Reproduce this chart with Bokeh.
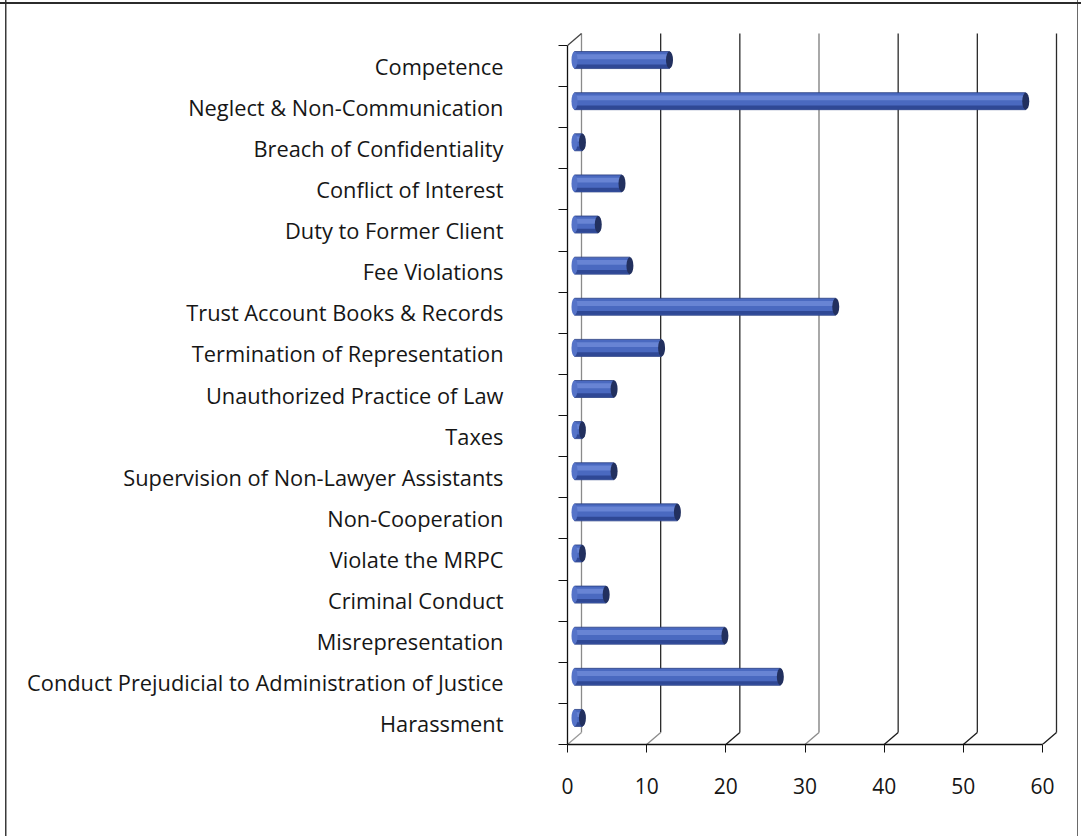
from bokeh.plotting import figure
from bokeh.models import FixedTicker, Range1d, ColumnDataSource
from bokeh.embed import file_html
from bokeh.resources import INLINE

# Complaint categories, listed top to bottom, and their counts
categories = [
    "Competence",
    "Neglect & Non-Communication",
    "Breach of Confidentiality",
    "Conflict of Interest",
    "Duty to Former Client",
    "Fee Violations",
    "Trust Account Books & Records",
    "Termination of Representation",
    "Unauthorized Practice of Law",
    "Taxes",
    "Supervision of Non-Lawyer Assistants",
    "Non-Cooperation",
    "Violate the MRPC",
    "Criminal Conduct",
    "Misrepresentation",
    "Conduct Prejudicial to Administration of Justice",
    "Harassment",
]
counts = [12, 57, 1, 6, 3, 7, 33, 11, 5, 1, 5, 13, 1, 4, 19, 26, 1]
x_ticks = [0, 10, 20, 30, 40, 50, 60]

FONT = "Open Sans"
INK = "#161616"

# pixel scale of the plotting frame
PX_X = 475 / 60.0
PX_Y = 699 / 17.0
FRAME_W, FRAME_H = 504, 714

# depth of the pseudo-3D box, in data units
DX = 14 / PX_X
DY = 12 / PX_Y

n = len(categories)
p = figure(
    width=1081, height=836,
    output_backend="svg", toolbar_location=None,
    x_range=Range1d(0, FRAME_W / PX_X), y_range=Range1d(0, FRAME_H / PX_Y),
    min_border_left=567, min_border_right=1081 - 567 - FRAME_W,
    min_border_top=836 - 92 - FRAME_H, min_border_bottom=92,
)
p.grid.visible = False
p.outline_line_color = None
p.background_fill_color = "white"
# transparent margins so the chart-area border drawn by CSS shows through
p.border_fill_color = None
p.styles = {
    "background-color": "white",
    "background-image": (
        "linear-gradient(#2b2b2b, #2b2b2b), "
        "linear-gradient(#3a3a3a, #3a3a3a), "
        "linear-gradient(#6a6a6a, #6a6a6a)"
    ),
    "background-size": "100% 2px, 1.5px 100%, 1px 100%",
    "background-position": "0 2px, 5px 0, 1077px 0",
    "background-repeat": "no-repeat",
}

# back wall gridlines
gl_colors = ["#8a8a8a", "#2a2a2a", "#2a2a2a", "#7a7a7a", "#2a2a2a", "#2a2a2a", "#2a2a2a"]
p.segment(x0=[v + DX for v in x_ticks], y0=[DY] * len(x_ticks),
          x1=[v + DX for v in x_ticks], y1=[n + DY] * len(x_ticks),
          line_color=gl_colors, line_width=1.3)
# floor edges running back from each tick
fl_colors = ["#9a9a9a", "#8a8a8a", "#1a1a1a", "#8a8a8a", "#1a1a1a", "#1a1a1a", "#1a1a1a"]
p.segment(x0=x_ticks, y0=[0] * len(x_ticks),
          x1=[v + DX for v in x_ticks], y1=[DY] * len(x_ticks),
          line_color=fl_colors, line_width=1.3)
# top edge of the side wall
p.segment(x0=[0], y0=[n], x1=[DX], y1=[n + DY], line_color="#444444", line_width=1.3)

# cylinder bars
yc = [n - i - 0.5 + DY / 2 for i in range(n)]
src = ColumnDataSource(dict(
    y=yc,
    right=[c + DX / 2 for c in counts],
    y_hi=[y + 0.08 for y in yc],
    y_lo=[y - 0.15 for y in yc],
))
BAR_H = 17 / PX_Y
p.hbar(y="y", left=DX / 2, right="right", height=BAR_H, source=src,
       fill_color="#4a69c0", line_color="#2a3f80", line_width=0.8)
p.hbar(y="y_hi", left=DX / 2, right="right", height=0.12, source=src,
       fill_color="#6f8bd8", fill_alpha=0.8, line_color=None)
p.hbar(y="y_lo", left=DX / 2, right="right", height=0.09, source=src,
       fill_color="#2c4590", fill_alpha=0.9, line_color=None)
p.ellipse(x=DX / 2, y="y", width=6, height=17, width_units="screen",
          height_units="screen", source=src, fill_color="#5573c8", line_color=None)
p.ellipse(x="right", y="y", width=7, height=17, width_units="screen",
          height_units="screen", source=src, fill_color="#22305f", line_color=None)

# value axis along the front edge
xa = p.xaxis[0]
xa.ticker = FixedTicker(ticks=x_ticks)
xa.bounds = (0, 60)
xa.axis_line_color = "#111111"
xa.axis_line_width = 1.3
xa.major_tick_out = 8
xa.major_tick_in = 0
xa.major_tick_line_color = "#111111"
xa.minor_tick_out = 0
xa.minor_tick_in = 0
xa.major_label_standoff = 25
xa.major_label_text_font = FONT
xa.major_label_text_font_size = "21px"
xa.major_label_text_color = INK

# category axis: ticks between categories, names centred in each band
ya = p.yaxis[0]
ya.ticker = FixedTicker(ticks=[n - i - 0.5 for i in range(n)],
                        minor_ticks=list(range(n + 1)))
ya.major_label_overrides = {n - i - 0.5: name for i, name in enumerate(categories)}
ya.bounds = (0, n)
ya.axis_line_color = "#111111"
ya.axis_line_width = 1.3
ya.major_tick_out = 0
ya.major_tick_in = 0
ya.minor_tick_out = 9
ya.minor_tick_in = 0
ya.minor_tick_line_color = "#111111"
ya.major_label_standoff = 55
ya.major_label_text_font = FONT
ya.major_label_text_font_size = "21.8px"
ya.major_label_text_color = INK

open("out.html", "w").write(file_html(p, INLINE))
